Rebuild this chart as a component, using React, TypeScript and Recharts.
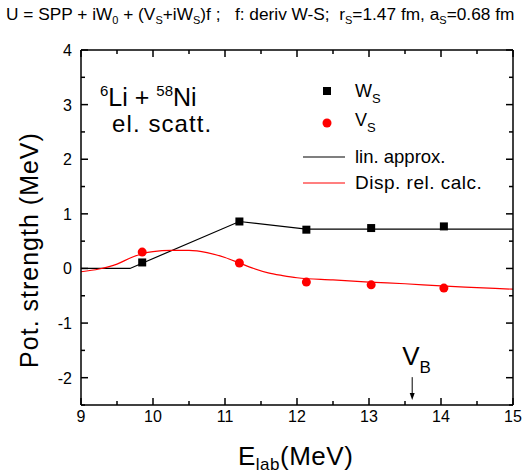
import React from 'react'
import {
	ComposedChart,
	Line,
	Scatter,
	XAxis,
	YAxis,
	Legend,
	ReferenceLine,
} from 'recharts'

// measured points
const energies = [9.85, 11.2, 12.13, 13.03, 14.04]
const wsValues = [0.11, 0.86, 0.71, 0.74, 0.77]
const vsValues = [0.3, 0.1, -0.25, -0.3, -0.36]

// linear approximation for W_S
const linX = [9, 9.68, 11.2, 12.13, 15]
const linY = [0, 0, 0.86, 0.72, 0.72]

// dispersion relation calculation for V_S
const dispX = [9, 9.25, 9.5, 9.7, 9.85, 10, 10.25, 10.5, 10.75, 11, 11.2, 11.4, 11.6, 11.8, 12, 12.5, 13, 13.5, 14, 14.5, 15]
const dispY = [-0.06, -0.01, 0.08, 0.2, 0.27, 0.31, 0.33, 0.33, 0.29, 0.2, 0.1, 0.0, -0.08, -0.13, -0.17, -0.21, -0.25, -0.28, -0.32, -0.35, -0.38]

const xMajorTicks = [9, 10, 11, 12, 13, 14, 15]
const xMinorTicks = [9.5, 10.5, 11.5, 12.5, 13.5, 14.5]
const yMajorTicks = [-2, -1, 0, 1, 2, 3, 4]
const yMinorTicks = [-2.5, -1.5, -0.5, 0.5, 1.5, 2.5, 3.5]

const xDomain = [9, 15]
const yDomain = [-2.5, 4]

const vbEnergy = 13.6
const vbArrow = [-1.99, -2.41]

const xTicks = [...xMajorTicks, ...xMinorTicks].sort((a, b) => a - b)
const yTicks = [...yMajorTicks, ...yMinorTicks].sort((a, b) => a - b)

const wsData = energies.map((e, i) => ({ x: e, y: wsValues[i] }))
const vsData = energies.map((e, i) => ({ x: e, y: vsValues[i] }))
const linData = linX.map((x, i) => ({ x, y: linY[i] }))
const dispData = dispX.map((x, i) => ({ x, y: dispY[i] }))

// chart layout
const W = 522
const H = 475
const margin = { top: 50, right: 9, bottom: 40, left: 21 }
const xAxisHeight = 30
const yAxisWidth = 60
const plotLeft = margin.left + yAxisWidth
const plotTop = margin.top
const plotW = W - margin.right - plotLeft
const plotH = H - margin.bottom - xAxisHeight - plotTop

const isMajor = (v: number) => Number.isInteger(v)
const tickLen = (v: number) => (isMajor(v) ? 7 : 4)

// tick positions along the frame, for the mirrored top/right ticks
const xPos = (v: number) => plotLeft + ((v - xDomain[0]) / (xDomain[1] - xDomain[0])) * plotW
const yPos = (v: number) => plotTop + ((yDomain[1] - v) / (yDomain[1] - yDomain[0])) * plotH

const BottomTick = (props: any) => {
	const { x, y, payload } = props
	return (
		<g>
			<line x1={x} x2={x} y1={y} y2={y - tickLen(payload.value)} stroke="#000" strokeWidth={1.5} />
			{isMajor(payload.value) && (
				<text x={x} y={y + 17} textAnchor="middle" fontSize={16} fill="#000">
					{payload.value}
				</text>
			)}
		</g>
	)
}

const LeftTick = (props: any) => {
	const { x, y, payload } = props
	return (
		<g>
			<line x1={x} x2={x + tickLen(payload.value)} y1={y} y2={y} stroke="#000" strokeWidth={1.5} />
			{isMajor(payload.value) && (
				<text x={x - 9} y={y + 6} textAnchor="end" fontSize={16} fill="#000">
					{payload.value}
				</text>
			)}
		</g>
	)
}

const Square = (props: any) => <rect x={props.cx - 4} y={props.cy - 4} width={8} height={8} fill="#000" />
const Dot = (props: any) => <circle cx={props.cx} cy={props.cy} r={4.5} fill="#ff0000" />

const VbArrow = (props: any) => {
	const { x1, y1, x2, y2 } = props
	return (
		<g>
			<line x1={x1} y1={y1} x2={x2} y2={y2 - 5} stroke="#000" strokeWidth={1} />
			<polygon points={`${x2 - 2.5},${y2 - 7} ${x2 + 2.5},${y2 - 7} ${x2},${y2}`} fill="#000" />
			<text x={x1 - 10} y={y1 - 12} fontSize={26} fill="#000">
				V<tspan fontSize={17} dy={8}>B</tspan>
			</text>
		</g>
	)
}

const LegendBox = () => (
	<svg width={225} height={120} style={{ fontFamily: 'Liberation Sans, Arial, sans-serif' }}>
		<rect x={28} y={9} width={8} height={8} fill="#000" />
		<text x={60} y={19} fontSize={18}>
			W<tspan fontSize={13} dy={6}>S</tspan>
		</text>
		<circle cx={32} cy={45} r={4.5} fill="#ff0000" />
		<text x={60} y={48} fontSize={18}>
			V<tspan fontSize={13} dy={6}>S</tspan>
		</text>
		<line x1={8} x2={50} y1={79} y2={79} stroke="#000" strokeWidth={1.2} />
		<text x={60} y={85} fontSize={18.5}>lin. approx.</text>
		<line x1={8} x2={50} y1={105} y2={105} stroke="#ff0000" strokeWidth={1.2} />
		<text x={60} y={111} fontSize={19} letterSpacing={0.5}>Disp. rel. calc.</text>
	</svg>
)

// top and right edges of the box, drawn over the chart
const FrameOverlay = () => (
	<svg
		width={W}
		height={H}
		style={{ position: 'absolute', left: 0, top: 0, pointerEvents: 'none' }}
	>
		<line x1={plotLeft} x2={plotLeft + plotW} y1={plotTop} y2={plotTop} stroke="#000" strokeWidth={1.5} />
		<line x1={plotLeft + plotW} x2={plotLeft + plotW} y1={plotTop} y2={plotTop + plotH} stroke="#000" strokeWidth={1.5} />
		{xTicks.map((t) => (
			<line key={`tx-${t}`} x1={xPos(t)} x2={xPos(t)} y1={plotTop} y2={plotTop + tickLen(t)} stroke="#000" strokeWidth={1.5} />
		))}
		{yTicks.map((t) => (
			<line
				key={`ty-${t}`}
				x1={plotLeft + plotW}
				x2={plotLeft + plotW - tickLen(t)}
				y1={yPos(t)}
				y2={yPos(t)}
				stroke="#000"
				strokeWidth={1.5}
			/>
		))}
	</svg>
)

const App: React.FC = () => {
	return (
		<div style={{ position: 'absolute', left: 0, top: 0, width: W, height: H, fontFamily: 'Liberation Sans, Arial, sans-serif' }}>
			<ComposedChart width={W} height={H} margin={margin}>
				<text x={6} y={20} fontSize={17.3} fill="#000" style={{ whiteSpace: 'pre' }}>
					U = SPP + iW<tspan fontSize={11} dy={4}>0</tspan>
					<tspan dy={-4}> + (V</tspan>
					<tspan fontSize={11} dy={4}>S</tspan>
					<tspan dy={-4}>+iW</tspan>
					<tspan fontSize={11} dy={4}>S</tspan>
					<tspan dy={-4}>)f ;   f: deriv W-S;  r</tspan>
					<tspan fontSize={11} dy={4}>S</tspan>
					<tspan dy={-4}>=1.47 fm, a</tspan>
					<tspan fontSize={11} dy={4}>S</tspan>
					<tspan dy={-4}>=0.68 fm</tspan>
				</text>
				<XAxis
					dataKey="x"
					type="number"
					domain={xDomain}
					ticks={xTicks}
					interval={0}
					tickSize={0}
					tickMargin={0}
					tick={<BottomTick />}
					axisLine={{ stroke: '#000', strokeWidth: 1.5 }}
					height={xAxisHeight}
				/>
				<YAxis
					type="number"
					domain={yDomain}
					ticks={yTicks}
					interval={0}
					tickSize={0}
					tickMargin={0}
					tick={<LeftTick />}
					axisLine={{ stroke: '#000', strokeWidth: 1.5 }}
					width={yAxisWidth}
				/>
				<Line
					data={linData}
					dataKey="y"
					type="linear"
					stroke="#000"
					strokeWidth={1.2}
					dot={false}
					isAnimationActive={false}
				/>
				<Line
					data={dispData}
					dataKey="y"
					type="monotone"
					stroke="#ff0000"
					strokeWidth={1.2}
					dot={false}
					isAnimationActive={false}
				/>
				<Scatter data={wsData} dataKey="y" shape={<Square />} isAnimationActive={false} />
				<Scatter data={vsData} dataKey="y" shape={<Dot />} isAnimationActive={false} />
				<ReferenceLine
					segment={[
						{ x: vbEnergy, y: vbArrow[0] },
						{ x: vbEnergy, y: vbArrow[1] },
					]}
					shape={<VbArrow />}
				/>
				<Legend
					layout="vertical"
					align="center"
					verticalAlign="middle"
					content={<LegendBox />}
					wrapperStyle={{ position: 'absolute', left: 295, top: 78, width: 225 }}
				/>
				<text x={100} y={106} fontSize={25} fill="#000">
					<tspan fontSize={15} dy={-10}>6</tspan>
					<tspan dy={10}>Li + </tspan>
					<tspan fontSize={15} dy={-10}>58</tspan>
					<tspan dy={10}>Ni</tspan>
				</text>
				<text x={112} y={132} fontSize={24} letterSpacing={1.1} fill="#000">
					el. scatt.
				</text>
				<text x={38} y={250} fontSize={25} letterSpacing={1} fill="#000" textAnchor="middle" transform="rotate(-90 38 250)">
					Pot. strength (MeV)
				</text>
				<text x={238} y={465} fontSize={26} letterSpacing={0.5} fill="#000">
					E<tspan fontSize={17} dy={5}>lab</tspan>
					<tspan dy={-5}>(MeV)</tspan>
				</text>
			</ComposedChart>
			<FrameOverlay />
		</div>
	)
}

export default App
